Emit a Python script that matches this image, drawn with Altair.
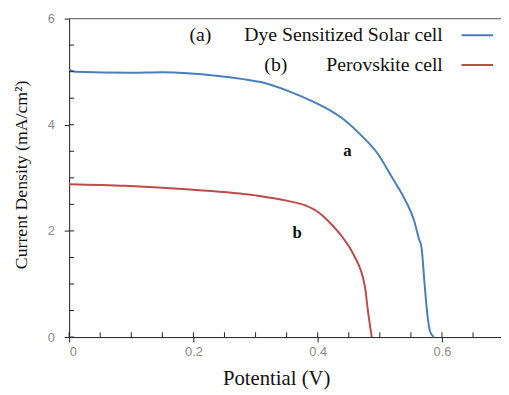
import altair as alt
import pandas as pd

# DSSC (a)
dssc_v = [0.0, 0.01, 0.10, 0.15, 0.24, 0.28, 0.31, 0.354, 0.39, 0.42, 0.444, 0.47, 0.497, 0.52, 0.54, 0.555, 0.563, 0.567, 0.572, 0.576, 0.581, 0.587]
dssc_j = [5.04, 5.0, 4.98, 4.99, 4.92, 4.86, 4.8, 4.63, 4.45, 4.27, 4.08, 3.8, 3.45, 3.0, 2.6, 2.2, 1.85, 1.7, 1.0, 0.48, 0.1, 0.0]
# Perovskite (b)
pero_v = [0.0, 0.09, 0.195, 0.30, 0.35, 0.38, 0.40, 0.42, 0.44, 0.458, 0.476, 0.481, 0.487]
pero_j = [2.88, 2.85, 2.78, 2.67, 2.57, 2.48, 2.36, 2.15, 1.88, 1.55, 0.95, 0.48, 0.0]

x_major = [0.0, 0.2, 0.4, 0.6]
x_ticks = [0.0, 0.05, 0.1, 0.15, 0.2, 0.25, 0.3, 0.35, 0.4, 0.45, 0.5, 0.55, 0.6, 0.65]
y_major = [0, 2, 4, 6]
y_ticks = [0, 0.5, 1, 1.5, 2, 2.5, 3, 3.5, 4, 4.5, 5, 5.5]

BLUE = "#4a7ebb"
RED = "#be4b48"

df = pd.DataFrame(
    {"V": dssc_v + pero_v,
     "J": dssc_j + pero_j,
     "cell": ["a"] * len(dssc_v) + ["b"] * len(pero_v),
     "order": list(range(len(dssc_v))) + list(range(len(pero_v)))}
)

xs = alt.Scale(domain=[0, 0.695], nice=False)
ys = alt.Scale(domain=[0, 6], nice=False)

x_axis = alt.Axis(values=x_major, ticks=True, tickSize=5, tickColor="#222", grid=False, labelPadding=4,
                  labelFont="Liberation Sans", labelFontSize=13, labelColor="#8a8a8a",
                  domainColor="#222", title="Potential (V)", titleFont="Liberation Serif",
                  titleFontSize=21, titleFontWeight="normal", titleColor="#111",
                  titleX=210, titleY=42, titleAlign="center", titleBaseline="middle",
                  labelExpr="datum.value == 0 ? '0' : format(datum.value, '.1f')")
y_axis = alt.Axis(values=y_major, ticks=True, tickSize=5, tickColor="#222", grid=False, labelPadding=10,
                  labelFont="Liberation Sans", labelFontSize=13, labelColor="#8a8a8a",
                  domainColor="#222", title="Current Density (mA/cm²)", titleFont="Liberation Serif",
                  titleFontSize=18, titleFontWeight="normal", titleColor="#111",
                  titleX=-48, titleY=158, titleAlign="center", titleBaseline="middle", titleAngle=270,
                  labelExpr="format(datum.value, 'd')")

lines = alt.Chart(df).mark_line(strokeWidth=2, interpolate="monotone").encode(
    x=alt.X("V:Q", scale=xs, axis=x_axis),
    y=alt.Y("J:Q", scale=ys, axis=y_axis),
    color=alt.Color("cell:N", scale=alt.Scale(domain=["a", "b"], range=[BLUE, RED]), legend=None),
    order="order:Q",
)

top_rule = alt.Chart(pd.DataFrame({"y": [6]})).mark_rule(color="#666", strokeWidth=1).encode(
    y=alt.Y("y:Q", scale=ys))

xt = alt.Chart(pd.DataFrame({"x": x_ticks})).mark_rule(color="#222", strokeWidth=1).encode(
    x=alt.X("x:Q", scale=xs), y=alt.datum(0), y2=alt.datum(0.09))
yt = alt.Chart(pd.DataFrame({"y": y_ticks})).mark_rule(color="#222", strokeWidth=1).encode(
    y=alt.Y("y:Q", scale=ys), x=alt.datum(0), x2=alt.datum(0.008))

ann = alt.Chart(pd.DataFrame({"V": [0.448, 0.367], "J": [3.51, 1.96], "t": ["a", "b"]})).mark_text(
    font="Liberation Serif", fontSize=17, fontWeight="bold", color="#111").encode(
    x=alt.X("V:Q", scale=xs), y=alt.Y("J:Q", scale=ys), text="t:N")

leg_lab = ["(a)", "(b)"]
leg_name = ["Dye Sensitized Solar cell", "Perovskite cell"]
leg_df = pd.DataFrame({"lab": leg_lab, "name": leg_name, "px": [122, 198], "py": [17, 47], "c": ["a", "b"]})
leg_a = alt.Chart(leg_df).mark_text(font="Liberation Serif", fontSize=20, color="#111", align="left", baseline="middle").encode(
    x=alt.X("px:Q", scale=None), y=alt.Y("py:Q", scale=None), text="lab:N")
leg_b = alt.Chart(leg_df).mark_text(font="Liberation Serif", fontSize=20, color="#111", align="right", baseline="middle").encode(
    x=alt.value(379), y=alt.Y("py:Q", scale=None), text="name:N")
leg_r = alt.Chart(leg_df).mark_rule(strokeWidth=2).encode(
    x=alt.value(398), x2=alt.value(430), y=alt.Y("py:Q", scale=None),
    color=alt.Color("c:N", scale=alt.Scale(domain=["a", "b"], range=[BLUE, RED]), legend=None))

chart = alt.layer(top_rule, lines, xt, yt, ann, leg_a, leg_b, leg_r).properties(
    width=438, height=323,
    autosize=alt.AutoSizeParams(type="none"),
    padding={"left": 62, "top": 8, "right": 0, "bottom": 56},
).configure_view(stroke=None).configure(background="white")

chart.save("out.html", embed_options={"renderer": "svg", "actions": False})
